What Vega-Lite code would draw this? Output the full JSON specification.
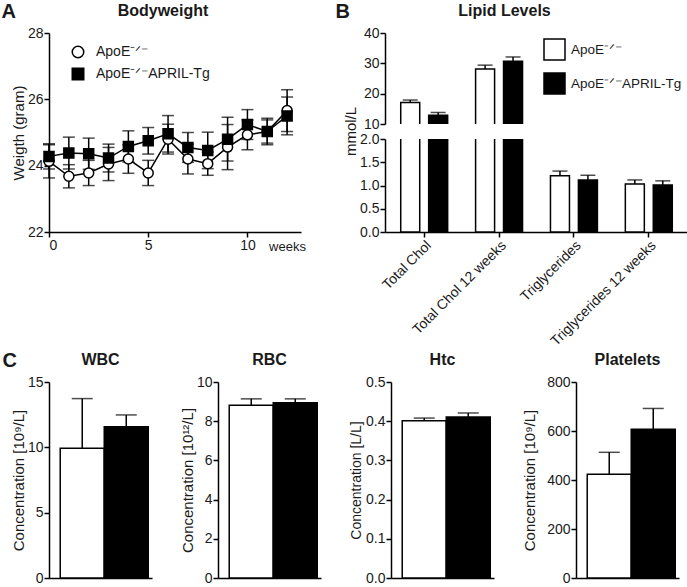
{
  "$schema": "https://vega.github.io/schema/vega-lite/v6.json",
  "padding": {"left": 1, "top": 2, "right": 0, "bottom": 0},
  "datasets": {
    "bw": [
      {"week": 0, "group": "ApoE⁻ᐟ⁻", "mean": 24.13, "err": 0.5},
      {"week": 1, "group": "ApoE⁻ᐟ⁻", "mean": 23.68, "err": 0.35},
      {"week": 2, "group": "ApoE⁻ᐟ⁻", "mean": 23.78, "err": 0.38},
      {"week": 3, "group": "ApoE⁻ᐟ⁻", "mean": 24.05, "err": 0.5},
      {"week": 4, "group": "ApoE⁻ᐟ⁻", "mean": 24.2, "err": 0.43},
      {"week": 5, "group": "ApoE⁻ᐟ⁻", "mean": 23.78, "err": 0.38},
      {"week": 6, "group": "ApoE⁻ᐟ⁻", "mean": 24.8, "err": 0.45},
      {"week": 7, "group": "ApoE⁻ᐟ⁻", "mean": 24.2, "err": 0.45},
      {"week": 8, "group": "ApoE⁻ᐟ⁻", "mean": 24.06, "err": 0.35},
      {"week": 9, "group": "ApoE⁻ᐟ⁻", "mean": 24.56, "err": 0.68},
      {"week": 10, "group": "ApoE⁻ᐟ⁻", "mean": 24.93, "err": 0.45},
      {"week": 11, "group": "ApoE⁻ᐟ⁻", "mean": 25.03, "err": 0.35},
      {"week": 12, "group": "ApoE⁻ᐟ⁻", "mean": 25.66, "err": 0.63},
      {"week": 0, "group": "ApoE⁻ᐟ⁻APRIL-Tg", "mean": 24.28, "err": 0.38},
      {"week": 1, "group": "ApoE⁻ᐟ⁻APRIL-Tg", "mean": 24.38, "err": 0.48},
      {"week": 2, "group": "ApoE⁻ᐟ⁻APRIL-Tg", "mean": 24.36, "err": 0.47},
      {"week": 3, "group": "ApoE⁻ᐟ⁻APRIL-Tg", "mean": 24.23, "err": 0.42},
      {"week": 4, "group": "ApoE⁻ᐟ⁻APRIL-Tg", "mean": 24.58, "err": 0.47},
      {"week": 5, "group": "ApoE⁻ᐟ⁻APRIL-Tg", "mean": 24.75, "err": 0.4},
      {"week": 6, "group": "ApoE⁻ᐟ⁻APRIL-Tg", "mean": 24.96, "err": 0.55},
      {"week": 7, "group": "ApoE⁻ᐟ⁻APRIL-Tg", "mean": 24.55, "err": 0.45},
      {"week": 8, "group": "ApoE⁻ᐟ⁻APRIL-Tg", "mean": 24.46, "err": 0.55},
      {"week": 9, "group": "ApoE⁻ᐟ⁻APRIL-Tg", "mean": 24.8, "err": 0.66},
      {"week": 10, "group": "ApoE⁻ᐟ⁻APRIL-Tg", "mean": 25.24, "err": 0.45},
      {"week": 11, "group": "ApoE⁻ᐟ⁻APRIL-Tg", "mean": 25.03, "err": 0.4},
      {"week": 12, "group": "ApoE⁻ᐟ⁻APRIL-Tg", "mean": 25.5, "err": 0.57}
    ],
    "lipid": [
      {"test": "Total Chol", "group": "ApoE⁻ᐟ⁻", "mean": 17.1, "err": 0.8},
      {"test": "Total Chol", "group": "ApoE⁻ᐟ⁻APRIL-Tg", "mean": 12.9, "err": 0.9},
      {"test": "Total Chol 12 weeks", "group": "ApoE⁻ᐟ⁻", "mean": 28.1, "err": 1.3},
      {"test": "Total Chol 12 weeks", "group": "ApoE⁻ᐟ⁻APRIL-Tg", "mean": 30.7, "err": 1.4},
      {"test": "Triglycerides", "group": "ApoE⁻ᐟ⁻", "mean": 1.21, "err": 0.1},
      {"test": "Triglycerides", "group": "ApoE⁻ᐟ⁻APRIL-Tg", "mean": 1.12, "err": 0.1},
      {"test": "Triglycerides 12 weeks", "group": "ApoE⁻ᐟ⁻", "mean": 1.03, "err": 0.09},
      {"test": "Triglycerides 12 weeks", "group": "ApoE⁻ᐟ⁻APRIL-Tg", "mean": 1.01, "err": 0.09}
    ],
    "blood": [
      {"panel": "WBC", "group": "ApoE⁻ᐟ⁻", "mean": 9.93, "err": 3.8},
      {"panel": "WBC", "group": "ApoE⁻ᐟ⁻APRIL-Tg", "mean": 11.58, "err": 0.9},
      {"panel": "RBC", "group": "ApoE⁻ᐟ⁻", "mean": 8.82, "err": 0.32},
      {"panel": "RBC", "group": "ApoE⁻ᐟ⁻APRIL-Tg", "mean": 8.94, "err": 0.2},
      {"panel": "Htc", "group": "ApoE⁻ᐟ⁻", "mean": 0.401, "err": 0.007},
      {"panel": "Htc", "group": "ApoE⁻ᐟ⁻APRIL-Tg", "mean": 0.411, "err": 0.01},
      {"panel": "Platelets", "group": "ApoE⁻ᐟ⁻", "mean": 423, "err": 90},
      {"panel": "Platelets", "group": "ApoE⁻ᐟ⁻APRIL-Tg", "mean": 607, "err": 85}
    ]
  },
  "resolve": {"scale": {"fill": "independent", "shape": "independent", "x": "independent", "y": "independent"}, "legend": {"fill": "independent", "shape": "independent"}},
  "spacing": 2,
  "vconcat": [
    {
      "resolve": {"scale": {"fill": "independent", "shape": "independent", "x": "independent", "y": "independent"}, "legend": {"fill": "independent", "shape": "independent"}},
      "spacing": 29,
      "hconcat": [
        {
          "title": {"text": "A", "anchor": "start", "frame": "bounds", "fontSize": 20, "offset": -19, "dx": -10},
          "vconcat": [
            {
              "title": {"text": "Bodyweight", "dx": -12},
              "width": 252,
              "height": 199,
              "data": {"name": "bw"},
              "encoding": {
                "x": {"field": "week", "type": "quantitative", "scale": {"domain": [0, 12.7], "nice": false, "zero": false},
                  "axis": {"values": [0, 5, 10], "title": "weeks", "titleFontSize": 13, "titleX": 238, "titleY": 8, "titleBaseline": "top", "titleAnchor": null, "titleAlign": "center"}},
                "y": {"field": "mean", "type": "quantitative", "scale": {"domain": [22, 28], "nice": false, "zero": false},
                  "axis": {"values": [22, 24, 26, 28], "title": "Weigth (gram)"}}
              },
              "layer": [
                {
                  "mark": {"type": "errorbar", "ticks": {"size": 12}, "thickness": 1.5, "color": "black"},
                  "encoding": {"yError": {"field": "err"}, "detail": {"field": "group"}}
                },
                {
                  "mark": {"type": "line", "color": "black", "strokeWidth": 1.5},
                  "encoding": {"detail": {"field": "group"}}
                },
                {
                  "mark": {"type": "point", "stroke": "black", "strokeWidth": 1.5, "opacity": 1, "size": 100},
                  "encoding": {
                    "shape": {"field": "group", "type": "nominal", "scale": {"range": ["circle", "square"]},
                      "legend": {"title": null, "orient": "none", "legendX": 22, "legendY": 12, "symbolSize": 132, "labelOffset": 11, "rowPadding": 4, "labelFontSize": 14,
                        "encode": {"symbols": {"update": {
                          "shape": {"signal": "indexof(datum.value, 'APRIL') < 0 ? 'M-2,0H-0.95M0.95,0H2M-0.95,0A0.95,0.95 0 1,1 0.95,0A0.95,0.95 0 1,1 -0.95,0Z' : 'M-2,0H2M-0.95,-0.95H0.95V0.95H-0.95Z'"},
                          "fill": {"signal": "indexof(datum.value, 'APRIL') < 0 ? 'white' : 'black'"},
                          "stroke": {"value": "black"},
                          "strokeWidth": {"value": 1.5},
                          "opacity": {"value": 1}
                        }}}}},
                    "fill": {"field": "group", "type": "nominal", "scale": {"range": ["white", "black"]}, "legend": null}
                  }
                }
              ]
            }
          ]
        },
        {
          "title": {"text": "B", "anchor": "start", "frame": "bounds", "fontSize": 20, "offset": -19, "dx": -8},
          "bounds": "flush",
          "spacing": 15,
          "resolve": {"scale": {"fill": "independent", "x": "independent", "y": "independent"}, "legend": {"fill": "independent"}},
          "vconcat": [
            {
              "title": {"text": "Lipid Levels", "dx": -32},
              "width": 303,
              "height": 91,
              "data": {"name": "lipid"},
              "encoding": {
                "x": {"field": "test", "type": "nominal", "sort": null, "scale": {"paddingInner": 0.373, "paddingOuter": 0.21}, "axis": null},
                "xOffset": {"field": "group", "type": "nominal", "scale": {"paddingInner": 0.32}},
                "y": {"field": "mean", "type": "quantitative", "scale": {"domain": [10, 40], "nice": false, "zero": false},
                  "axis": {"values": [10, 20, 30, 40], "title": null}}
              },
              "layer": [
                {
                  "mark": {"type": "errorbar", "ticks": {"size": 15}, "thickness": 1.5, "color": "black", "clip": true},
                  "encoding": {"yError": {"field": "err"}}
                },
                {
                  "mark": {"type": "bar", "stroke": "black", "strokeWidth": 1.5, "clip": true},
                  "encoding": {
                    "fill": {"field": "group", "type": "nominal", "scale": {"range": ["white", "black"]},
                      "legend": {"title": null, "orient": "none", "legendX": 158, "legendY": 5, "symbolSize": 441, "labelOffset": 5, "rowPadding": 7, "labelFontSize": 13.5,
                        "encode": {"symbols": {"update": {
                          "shape": {"value": "M-1,-0.57H1V0.57H-1Z"},
                          "stroke": {"value": "black"},
                          "strokeWidth": {"value": 1.5},
                          "opacity": {"value": 1}
                        }}}}}
                  }
                }
              ]
            },
            {
              "width": 303,
              "height": 93,
              "data": {"name": "lipid"},
              "encoding": {
                "x": {"field": "test", "type": "nominal", "sort": null, "scale": {"paddingInner": 0.373, "paddingOuter": 0.21},
                  "axis": {"title": null, "labelAngle": -45, "labelFontSize": 14}},
                "xOffset": {"field": "group", "type": "nominal", "scale": {"paddingInner": 0.32}},
                "y": {"field": "mean", "type": "quantitative", "scale": {"domain": [0, 2], "nice": false, "zero": false},
                  "axis": {"values": [0, 0.5, 1, 1.5, 2], "format": ".1f", "title": "mmol/L", "titleY": -8}}
              },
              "layer": [
                {
                  "mark": {"type": "errorbar", "ticks": {"size": 15}, "thickness": 1.5, "color": "black", "clip": true},
                  "encoding": {"yError": {"field": "err"}}
                },
                {
                  "mark": {"type": "bar", "stroke": "black", "strokeWidth": 1.5, "clip": true},
                  "encoding": {
                    "fill": {"field": "group", "type": "nominal", "scale": {"range": ["white", "black"]}, "legend": null}
                  }
                }
              ]
            }
          ]
        }
      ]
    },
    {
      "title": {"text": "C", "anchor": "start", "frame": "bounds", "fontSize": 20, "offset": -19, "dx": -9},
      "resolve": {"scale": {"fill": "independent", "x": "independent", "y": "independent"}},
      "spacing": 28,
      "data": {"name": "blood"},
      "hconcat": [
        {
          "title": {"text": "WBC"},
          "width": 103, "height": 196,
          "transform": [{"filter": "datum.panel === 'WBC'"}],
          "encoding": {
            "x": {"field": "group", "type": "nominal", "scale": {"paddingInner": 0, "paddingOuter": 0.17, "align": 0.75}, "axis": {"labels": false, "ticks": false, "title": null}},
            "y": {"field": "mean", "type": "quantitative", "scale": {"domain": [0, 15], "nice": false}, "axis": {"values": [0, 5, 10, 15], "title": "Concentration [10⁹/L]"}}
          },
          "layer": [
            {"mark": {"type": "errorbar", "ticks": {"size": 21}, "thickness": 1.5, "color": "black"}, "encoding": {"yError": {"field": "err"}}},
            {"mark": {"type": "bar", "stroke": "black", "strokeWidth": 1.5}, "encoding": {"fill": {"field": "group", "type": "nominal", "scale": {"range": ["white", "black"]}, "legend": null}}}
          ]
        },
        {
          "title": {"text": "RBC"},
          "width": 103, "height": 196,
          "transform": [{"filter": "datum.panel === 'RBC'"}],
          "encoding": {
            "x": {"field": "group", "type": "nominal", "scale": {"paddingInner": 0, "paddingOuter": 0.17, "align": 0.75}, "axis": {"labels": false, "ticks": false, "title": null}},
            "y": {"field": "mean", "type": "quantitative", "scale": {"domain": [0, 10], "nice": false}, "axis": {"values": [0, 2, 4, 6, 8, 10], "title": "Concentration [10¹²/L]"}}
          },
          "layer": [
            {"mark": {"type": "errorbar", "ticks": {"size": 21}, "thickness": 1.5, "color": "black"}, "encoding": {"yError": {"field": "err"}}},
            {"mark": {"type": "bar", "stroke": "black", "strokeWidth": 1.5}, "encoding": {"fill": {"field": "group", "type": "nominal", "scale": {"range": ["white", "black"]}, "legend": null}}}
          ]
        },
        {
          "title": {"text": "Htc"},
          "width": 103, "height": 196,
          "transform": [{"filter": "datum.panel === 'Htc'"}],
          "encoding": {
            "x": {"field": "group", "type": "nominal", "scale": {"paddingInner": 0, "paddingOuter": 0.17, "align": 0.75}, "axis": {"labels": false, "ticks": false, "title": null}},
            "y": {"field": "mean", "type": "quantitative", "scale": {"domain": [0, 0.5], "nice": false}, "axis": {"values": [0, 0.1, 0.2, 0.3, 0.4, 0.5], "format": ".1f", "title": "Concentration [L/L]", "titleFontSize": 14, "titlePadding": 2}}
          },
          "layer": [
            {"mark": {"type": "errorbar", "ticks": {"size": 21}, "thickness": 1.5, "color": "black"}, "encoding": {"yError": {"field": "err"}}},
            {"mark": {"type": "bar", "stroke": "black", "strokeWidth": 1.5}, "encoding": {"fill": {"field": "group", "type": "nominal", "scale": {"range": ["white", "black"]}, "legend": null}}}
          ]
        },
        {
          "title": {"text": "Platelets"},
          "width": 103, "height": 196,
          "transform": [{"filter": "datum.panel === 'Platelets'"}],
          "encoding": {
            "x": {"field": "group", "type": "nominal", "scale": {"paddingInner": 0, "paddingOuter": 0.17, "align": 0.75}, "axis": {"labels": false, "ticks": false, "title": null}},
            "y": {"field": "mean", "type": "quantitative", "scale": {"domain": [0, 800], "nice": false}, "axis": {"values": [0, 200, 400, 600, 800], "title": "Concentration [10⁹/L]", "titlePadding": 9}}
          },
          "layer": [
            {"mark": {"type": "errorbar", "ticks": {"size": 21}, "thickness": 1.5, "color": "black"}, "encoding": {"yError": {"field": "err"}}},
            {"mark": {"type": "bar", "stroke": "black", "strokeWidth": 1.5}, "encoding": {"fill": {"field": "group", "type": "nominal", "scale": {"range": ["white", "black"]}, "legend": null}}}
          ]
        }
      ]
    }
  ],
  "config": {
    "font": "Liberation Sans",
    "view": {"stroke": null},
    "axis": {"grid": false, "domainColor": "black", "domainWidth": 1.5, "tickColor": "black", "tickWidth": 1.5, "tickSize": 5,
      "labelFont": "Liberation Sans", "labelFontSize": 14, "labelColor": "#1a1a1a", "labelPadding": 1,
      "titleFont": "Liberation Sans", "titleFontSize": 15, "titleFontWeight": "normal", "titleColor": "#1a1a1a", "titlePadding": 1},
    "title": {"font": "Liberation Sans", "fontSize": 16, "fontWeight": "bold", "color": "#1a1a1a", "offset": 7},
    "legend": {"labelFont": "Liberation Sans", "labelColor": "#1a1a1a"}
  }
}
